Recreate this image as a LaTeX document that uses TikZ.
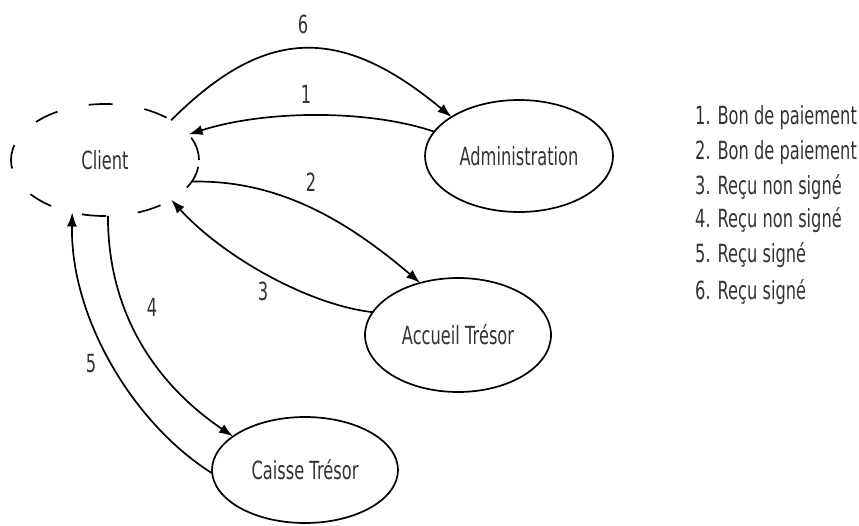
\documentclass[tikz,border=0pt]{standalone}
\usepackage{fontspec}
\setmainfont[FakeStretch=0.65]{DejaVu Sans}
\usetikzlibrary{shapes.geometric,arrows.meta}
\begin{document}
\begin{tikzpicture}[x=1pt,y=-1pt,
  every node/.style={font=\fontsize{25}{29}\selectfont, text=black!80},
  actor/.style={ellipse, draw, line width=1.7pt, inner sep=0pt, outer sep=0pt},
  flow/.style={line width=1.7pt, -{Latex[length=14pt,width=10pt]}},
  lbl/.style={inner sep=0pt},
  legendline/.style={anchor=base west, inner sep=0pt}]
\useasboundingbox (0,0) rectangle (859,525);

% actors
\node[actor, minimum width=188pt, minimum height=112pt,
      dash pattern=on 24pt off 32pt] (client) at (105,160) {Client};
\node[actor, minimum width=188pt, minimum height=112pt] (admin) at (519,156) {Administration};
\node[actor, minimum width=186pt, minimum height=114pt] (accueil) at (458,335) {Accueil Trésor};
\node[actor, minimum width=186pt, minimum height=106pt] (caisse) at (305,470) {Caisse Trésor};

% exchanges
\draw[flow] (client.31) .. controls +(93,-93) and +(-112,-93) .. (admin.150);
\draw[flow] (admin.164) .. controls +(-64,-22) and +(78,-25) .. (client.17);
\draw[flow] (client.-14) .. controls +(85,-2) and +(-75,-64) .. (accueil.126);
\draw[flow] (accueil.165) .. controls +(-63,-7) and +(53,58) .. (client.-31);
\draw[flow] (client.-87) .. controls +(0,100) and +(-75,-51) .. (caisse.155);
\draw[flow] (caisse.182) .. controls +(-77,-48) and +(-2,107) .. (client.238);

% step numbers
\node[lbl] (n6) at (303,24) {6};
\node[lbl] (n1) at (306,94) {1};
\node[lbl] (n2) at (311,182) {2};
\node[lbl] (n3) at (263,291) {3};
\node[lbl] (n4) at (152,307) {4};
\node[lbl] (n5) at (91,364) {5};

% key
\node[legendline] (k1) at (695,124) {1. Bon de paiement};
\node[legendline] (k2) at (695,159) {2. Bon de paiement};
\node[legendline] (k3) at (695,194) {3. Reçu non signé};
\node[legendline] (k4) at (695,227) {4. Reçu non signé};
\node[legendline] (k5) at (695,262) {5. Reçu signé};
\node[legendline] (k6) at (695,299) {6. Reçu signé};
\end{tikzpicture}
\end{document}
